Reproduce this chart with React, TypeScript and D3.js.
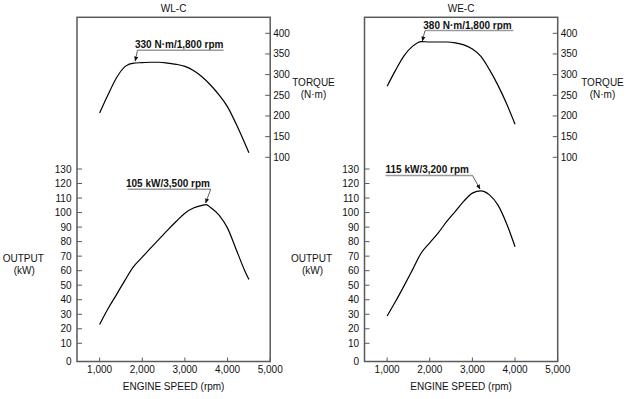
import React from "react";
import * as d3 from "d3";

// ---------- data ----------
const wlcTorqueRpm = [1000, 1200, 1400, 1600, 1800, 2000, 2200, 2400, 2600, 2800, 3000, 3200, 3400, 3600, 3800, 4000, 4200, 4400, 4500];
const wlcTorque = [207, 252, 293, 320, 328, 329, 330, 330, 328, 325, 320, 310, 295, 275, 251, 222, 181, 135, 111];
const wlcOutputRpm = [1000, 1200, 1400, 1600, 1800, 2000, 2200, 2400, 2600, 2800, 3000, 3200, 3400, 3500, 3600, 3800, 4000, 4200, 4400, 4500];
const wlcOutput = [23, 34, 43.7, 53.7, 62.9, 69.3, 75.7, 81.9, 88.1, 94, 99.6, 103.1, 105, 105.5, 103.5, 98.3, 89.3, 74.8, 60.2, 54];

const wecTorqueRpm = [1000, 1200, 1400, 1600, 1800, 2000, 2200, 2400, 2600, 2800, 3000, 3200, 3400, 3600, 3800, 4000];
const wecTorque = [272, 311, 346, 369, 380, 379, 379, 379, 377, 372, 362, 344, 312, 274, 230, 180];
const wecOutputRpm = [1000, 1200, 1400, 1600, 1800, 2000, 2200, 2400, 2600, 2800, 3000, 3200, 3400, 3600, 3800, 4000];
const wecOutput = [28.8, 38.9, 49.7, 60.9, 72.2, 79.2, 86.1, 93.9, 100.9, 107.9, 113.4, 115, 112.2, 105.1, 92.5, 76.5];

const rpmTicks = [1000, 2000, 3000, 4000, 5000];
const torqueTicks = [100, 150, 200, 250, 300, 350, 400];
const outputTicks = [0, 10, 20, 30, 40, 50, 60, 70, 80, 90, 100, 110, 120, 130];

const titles = ["WL-C", "WE-C"];
const torqueNotes = ["330 N·m/1,800 rpm", "380 N·m/1,800 rpm"];
const outputNotes = ["105 kW/3,500 rpm", "115 kW/3,200 rpm"];

// ---------- layout ----------
const W = 629;
const H = 399;
const BOX_TOP = 17.3;
const BOX_BOTTOM = 361.5;
const BOX_W = 193.2;
const FONT = "'Liberation Sans', Arial, Helvetica, sans-serif";
const AXIS = "#5a5a5a";

const torqueY = d3.scaleLinear().domain([100, 400]).range([157.3, 33.3]);
const outputY = d3.scaleLinear().domain([10, 130]).range([343.3, 169]);

type Note = {
  text: string;
  tx: number;
  ty: number;
  line: [number, number][];
};

type PanelProps = {
  ox: number;
  title: string;
  tRpm: number[];
  tVal: number[];
  oRpm: number[];
  oVal: number[];
  tNote: Note;
  oNote: Note;
  torqueLabelX: number;
  outputLabelX: number;
  arrowId: string;
};

function Panel(p: PanelProps) {
  const x = d3.scaleLinear().domain([470, 5000]).range([p.ox, p.ox + BOX_W]);
  const right = p.ox + BOX_W;
  const torqueLine = d3
    .line<number>()
    .x((_, i) => x(p.tRpm[i]))
    .y((d) => torqueY(d))
    .curve(d3.curveMonotoneX)(p.tVal) as string;
  const outputLine = d3
    .line<number>()
    .x((_, i) => x(p.oRpm[i]))
    .y((d) => outputY(d))
    .curve(d3.curveMonotoneX)(p.oVal) as string;
  const oy = (v: number) => (v === 0 ? BOX_BOTTOM : outputY(v));

  const renderNote = (n: Note) => {
    const pts = n.line;
    const under = pts.slice(0, 2);
    const lead = pts.slice(1);
    return (
      <g>
        <text x={n.tx} y={n.ty} fontSize={10} fontWeight="bold" fontFamily={FONT} fill="#111">
          {n.text}
        </text>
        <line x1={under[0][0]} y1={under[0][1]} x2={under[1][0]} y2={under[1][1]} stroke="#9a9a9a" strokeWidth={1.4} />
        <path
          d={d3.line()(lead as [number, number][]) as string}
          fill="none"
          stroke="#333"
          strokeWidth={0.8}
          markerEnd={`url(#${p.arrowId})`}
        />
      </g>
    );
  };

  return (
    <g>
      <text x={p.ox + BOX_W / 2} y={12.3} textAnchor="middle" fontSize={10} fontFamily={FONT} fill="#111">
        {p.title}
      </text>
      <rect x={p.ox} y={BOX_TOP} width={BOX_W} height={BOX_BOTTOM - BOX_TOP} fill="none" stroke={AXIS} strokeWidth={1.5} />
      {/* x axis */}
      {rpmTicks.map((t) => (
        <g key={"x" + t}>
          <line x1={x(t)} x2={x(t)} y1={BOX_BOTTOM} y2={BOX_BOTTOM - 4} stroke={AXIS} strokeWidth={1} />
          <text x={x(t)} y={BOX_BOTTOM + 11.8} textAnchor="middle" fontSize={10} fontFamily={FONT} fill="#111">
            {d3.format(",")(t)}
          </text>
        </g>
      ))}
      <text x={p.ox + BOX_W / 2} y={389.5} textAnchor="middle" fontSize={10} fontFamily={FONT} fill="#111">
        ENGINE SPEED (rpm)
      </text>
      {/* output axis */}
      {outputTicks.map((t) => (
        <g key={"o" + t}>
          {t !== 0 && <line x1={p.ox} x2={p.ox + 5} y1={outputY(t)} y2={outputY(t)} stroke={AXIS} strokeWidth={1} />}
          <text x={p.ox - 5.5} y={oy(t)} dy="0.35em" textAnchor="end" fontSize={10} fontFamily={FONT} fill="#111">
            {t}
          </text>
        </g>
      ))}
      <text x={p.outputLabelX} y={261.5} textAnchor="middle" fontSize={10} fontFamily={FONT} fill="#111">
        OUTPUT
      </text>
      <text x={p.outputLabelX + 1} y={273.5} textAnchor="middle" fontSize={10} fontFamily={FONT} fill="#111">
        (kW)
      </text>
      {/* torque axis */}
      {torqueTicks.map((t) => (
        <g key={"t" + t}>
          <line x1={right - 5} x2={right} y1={torqueY(t)} y2={torqueY(t)} stroke={AXIS} strokeWidth={1} />
          <text x={right + 3} y={torqueY(t)} dy="0.35em" textAnchor="start" fontSize={10} fontFamily={FONT} fill="#111">
            {t}
          </text>
        </g>
      ))}
      <text x={p.torqueLabelX} y={85.5} textAnchor="middle" fontSize={10} fontFamily={FONT} fill="#111">
        TORQUE
      </text>
      <text x={p.torqueLabelX} y={98} textAnchor="middle" fontSize={10} fontFamily={FONT} fill="#111">
        (N·m)
      </text>
      {/* curves */}
      <path d={torqueLine} fill="none" stroke="#000" strokeWidth={1.2} />
      <path d={outputLine} fill="none" stroke="#000" strokeWidth={1.2} />
      {renderNote(p.tNote)}
      {renderNote(p.oNote)}
    </g>
  );
}

export default function App() {
  return (
    <svg
      width={W}
      height={H}
      viewBox={`0 0 ${W} ${H}`}
      style={{ position: "absolute", left: 0, top: 0, background: "#fff" }}
    >
      <defs>
        {["arL", "arR"].map((id) => (
          <marker key={id} id={id} viewBox="0 0 10 10" refX={9} refY={5} markerWidth={5} markerHeight={5} orient="auto" markerUnits="userSpaceOnUse">
            <path d="M0,1 L10,5 L0,9 Z" fill="#111" />
          </marker>
        ))}
      </defs>
      <rect x={0} y={0} width={W} height={H} fill="#fff" />
      <Panel
        ox={77}
        title={titles[0]}
        tRpm={wlcTorqueRpm}
        tVal={wlcTorque}
        oRpm={wlcOutputRpm}
        oVal={wlcOutput}
        tNote={{ text: torqueNotes[0], tx: 135, ty: 48, line: [[223.5, 50.3], [137.5, 50.3], [135.2, 61]] }}
        oNote={{ text: outputNotes[0], tx: 126, ty: 187, line: [[127.7, 189.3], [210.7, 189.3], [205.6, 203]] }}
        torqueLabelX={313.5}
        outputLabelX={23.3}
        arrowId="arL"
      />
      <Panel
        ox={364.5}
        title={titles[1]}
        tRpm={wecTorqueRpm}
        tVal={wecTorque}
        oRpm={wecOutputRpm}
        oVal={wecOutput}
        tNote={{ text: torqueNotes[1], tx: 423.3, ty: 28.8, line: [[513.3, 30.5], [425, 30.5], [422.3, 41]] }}
        oNote={{ text: outputNotes[1], tx: 385.5, ty: 172.5, line: [[385.5, 175.5], [472.5, 175.5], [480, 189]] }}
        torqueLabelX={602.5}
        outputLabelX={311.5}
        arrowId="arR"
      />
    </svg>
  );
}
